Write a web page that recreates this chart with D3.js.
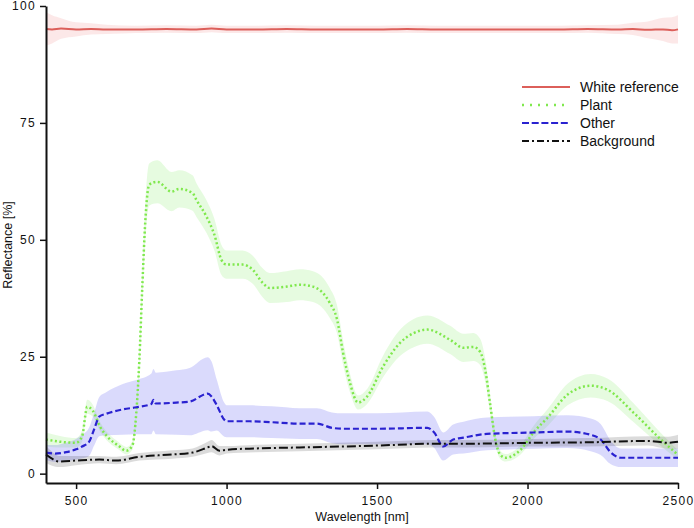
<!DOCTYPE html>
<html lang="en">
<head>
  <meta charset="UTF-8" />
  <script src="https://d3js.org/d3.v7.min.js"></script>
  <title>Reflectance spectra</title>
  <style>
    body { margin: 0; background: #fff; }
    text { font-family: Arial, "Liberation Sans", Helvetica, sans-serif; }
  </style>
</head>
<body>
<script type="text/javascript">
	var width = 694; var height = 528;

	// White reference
	var whiteWl   = [400, 420, 450, 500, 550, 600, 700, 800, 900, 950, 1000, 1100, 1200, 1300, 1400, 1500, 1600, 1700, 1800, 1900, 2000, 2100, 2200, 2300, 2350, 2400, 2450, 2480, 2500];
	var whiteMean = [95.1, 95.0, 95.2, 95.0, 95.1, 95.0, 95.0, 95.1, 95.0, 95.2, 95.0, 95.0, 95.1, 95.0, 95.0, 95.0, 95.1, 95.0, 95.0, 95.0, 95.0, 95.0, 95.1, 95.0, 95.1, 94.9, 95.0, 94.8, 95.0];
	var whiteSd   = [3.6, 3.0, 2.2, 1.5, 1.2, 1.0, 0.8, 0.8, 0.8, 0.8, 0.8, 0.8, 0.8, 0.8, 0.8, 0.8, 0.8, 0.8, 0.8, 0.8, 0.8, 0.8, 0.8, 1.0, 1.3, 1.8, 2.5, 2.8, 3.0];

	// Plant
	var plantWl   = [400, 450, 500, 520, 537, 555, 580, 610, 640, 667, 687, 700, 710, 720, 730, 743, 770, 817, 843, 887, 900, 933, 960, 983, 1000, 1053, 1087, 1120, 1143, 1200, 1243, 1287, 1343, 1367, 1387, 1410, 1437, 1467, 1520, 1577, 1620, 1667, 1743, 1787, 1820, 1843, 1860, 1877, 1893, 1910, 1927, 1977, 2020, 2067, 2133, 2210, 2267, 2353, 2443, 2500];
	var plantMean = [7.3, 6.8, 6.6, 8.0, 14.3, 13.5, 10.0, 7.5, 6.0, 4.9, 6.0, 13.0, 24.0, 40.0, 54.0, 61.8, 62.4, 60.3, 60.9, 60.0, 58.5, 55.0, 51.0, 45.7, 44.7, 44.7, 43.6, 40.8, 39.7, 40.0, 40.4, 40.0, 36.5, 33.0, 25.9, 19.4, 15.2, 16.5, 22.9, 28.0, 30.0, 30.8, 28.6, 26.9, 27.1, 26.0, 22.0, 14.3, 7.3, 4.0, 3.4, 5.1, 8.8, 12.0, 16.9, 18.8, 17.9, 13.0, 7.3, 4.0];
	var plantSd   = [1.5, 1.2, 1.0, 1.2, 1.5, 1.3, 1.0, 0.9, 0.8, 0.8, 0.9, 1.2, 2.0, 3.0, 4.0, 4.5, 4.6, 4.2, 4.0, 3.8, 3.6, 3.5, 3.4, 3.2, 3.0, 3.0, 3.0, 3.1, 3.2, 3.3, 3.3, 3.3, 3.2, 3.0, 2.6, 2.0, 1.5, 1.6, 2.3, 2.8, 3.0, 3.0, 3.0, 3.0, 3.0, 2.8, 2.5, 1.8, 1.2, 0.9, 0.8, 1.0, 1.4, 1.8, 2.3, 2.5, 2.4, 2.0, 1.4, 1.0];

	// Other
	var otherWl   = [400, 430, 467, 500, 520, 543, 560, 577, 600, 653, 700, 750, 757, 765, 833, 877, 937, 950, 967, 993, 1000, 1077, 1150, 1243, 1300, 1350, 1387, 1500, 1667, 1690, 1720, 1753, 1787, 1865, 2020, 2133, 2210, 2243, 2277, 2310, 2400, 2500];
	var otherMean = [4.5, 4.3, 4.6, 5.2, 5.8, 6.8, 9.5, 12.2, 12.8, 13.7, 14.2, 14.9, 15.8, 15.0, 15.2, 15.4, 17.1, 16.5, 14.7, 11.5, 11.2, 11.2, 11.0, 10.7, 10.7, 9.8, 9.6, 9.6, 9.8, 8.8, 5.8, 7.3, 7.7, 8.5, 8.8, 9.0, 8.3, 7.3, 4.5, 3.4, 3.4, 3.4];
	var otherSd   = [1.6, 1.8, 2.0, 2.2, 2.5, 3.0, 3.5, 4.2, 4.6, 5.4, 5.8, 6.5, 6.6, 6.6, 6.9, 7.2, 7.8, 7.5, 5.5, 3.6, 3.4, 3.4, 3.4, 3.3, 3.3, 3.3, 3.3, 3.3, 3.5, 3.3, 3.0, 3.2, 3.4, 3.5, 3.5, 3.5, 3.5, 3.3, 2.5, 2.0, 2.0, 2.0];

	// Background
	var bgWl   = [400, 420, 443, 500, 577, 633, 710, 820, 887, 937, 950, 977, 1000, 1100, 1243, 1500, 1690, 1800, 2020, 2200, 2400, 2467, 2500];
	var bgMean = [4.1, 3.2, 2.6, 2.8, 3.0, 2.8, 3.6, 4.1, 4.5, 5.6, 5.9, 4.9, 5.1, 5.4, 5.6, 6.0, 6.4, 6.4, 6.6, 6.7, 7.0, 6.6, 6.8];
	var bgSd   = [1.8, 1.5, 1.2, 1.0, 0.8, 0.8, 0.8, 0.9, 0.9, 1.2, 1.3, 1.0, 0.8, 0.8, 0.8, 0.8, 0.8, 0.8, 0.8, 0.9, 1.0, 1.3, 1.5];

	var xTicks = [500, 1000, 1500, 2000, 2500];
	var yTicks = [0, 25, 50, 75, 100];
	var legendLabels = ["White reference", "Plant", "Other", "Background"];

	function rows(wl, mean, sd) {
		return wl.map(function(w, i){ return {w: w, m: mean[i], s: sd[i]}; });
	}

	var series = [
		{name: legendLabels[0], data: rows(whiteWl, whiteMean, whiteSd), line: "#dc5f5a", band: "rgba(240,150,150,0.22)", width: 2, dash: null, legendDash: null},
		{name: legendLabels[1], data: rows(plantWl, plantMean, plantSd), line: "#80e84e", band: "rgba(130,235,100,0.2)", width: 2.5, dash: "2,2.5", legendDash: "2,6"},
		{name: legendLabels[2], data: rows(otherWl, otherMean, otherSd), line: "#2a22d0", band: "rgba(120,120,245,0.27)", width: 2.2, dash: "6,3", legendDash: "7,2.7"},
		{name: legendLabels[3], data: rows(bgWl, bgMean, bgSd), line: "#111", band: "rgba(0,0,0,0.14)", width: 2, dash: "9,3,2,3", legendDash: "7,3,2,3"}
	];

	var svgctrl = d3.select("body").append("svg").attr("width", width).attr("height", height);

	var x = d3.scaleLinear().domain([400, 2500]).range([46, 678]);
	var y = d3.scaleLinear().domain([-2, 100]).range([483, 6]);

	var area = d3.area().curve(d3.curveMonotoneX)
		.x(function(d){ return x(d.w); })
		.y0(function(d){ return y(d.m - d.s); })
		.y1(function(d){ return y(d.m + d.s); });
	var line = d3.line().curve(d3.curveMonotoneX)
		.x(function(d){ return x(d.w); })
		.y(function(d){ return y(d.m); });

	series.forEach(function(s){
		svgctrl.append("path").datum(s.data).attr("d", area).attr("fill", s.band).attr("stroke", "none");
	});
	series.forEach(function(s){
		svgctrl.append("path").datum(s.data).attr("d", line)
			.attr("fill", "none").attr("stroke", s.line).attr("stroke-width", s.width)
			.attr("stroke-dasharray", s.dash);
	});

	// axes
	var xAxis = svgctrl.append("g").attr("transform", "translate(0,483)")
		.call(d3.axisBottom(x).tickValues(xTicks).tickFormat(d3.format("d")).tickSizeInner(6).tickSizeOuter(0).tickPadding(7));
	var yAxis = svgctrl.append("g").attr("transform", "translate(46,0)")
		.call(d3.axisLeft(y).tickValues(yTicks).tickFormat(d3.format("d")).tickSizeInner(6).tickSizeOuter(0).tickPadding(4));
	[xAxis, yAxis].forEach(function(g){
		g.select(".domain").attr("stroke", "#111").attr("stroke-width", 2);
		g.selectAll(".tick line").attr("stroke", "#111").attr("stroke-width", 1.5);
		g.selectAll(".tick text").attr("fill", "#111").style("font-size", "12px")
			.style("font-family", "Arial, 'Liberation Sans', sans-serif").style("letter-spacing", "1.3px");
	});

	svgctrl.append("text").attr("x", 362).attr("y", 521).attr("text-anchor", "middle")
		.style("font-size", "12.5px").attr("fill", "#111").text("Wavelength [nm]");
	svgctrl.append("text").attr("transform", "translate(12,245) rotate(-90)").attr("text-anchor", "middle")
		.style("font-size", "12.5px").attr("fill", "#111").text("Reflectance [%]");

	// legend
	var legend = svgctrl.append("g");
	series.forEach(function(s, i){
		var ly = 87 + i * 18;
		legend.append("line").attr("x1", 522).attr("x2", 570).attr("y1", ly).attr("y2", ly)
			.attr("stroke", s.line).attr("stroke-width", s.width).attr("stroke-dasharray", s.legendDash);
		legend.append("text").attr("x", 580).attr("y", ly + 5).style("font-size", "14px")
			.attr("fill", "#111").text(s.name);
	});
</script>
</body>
</html>
